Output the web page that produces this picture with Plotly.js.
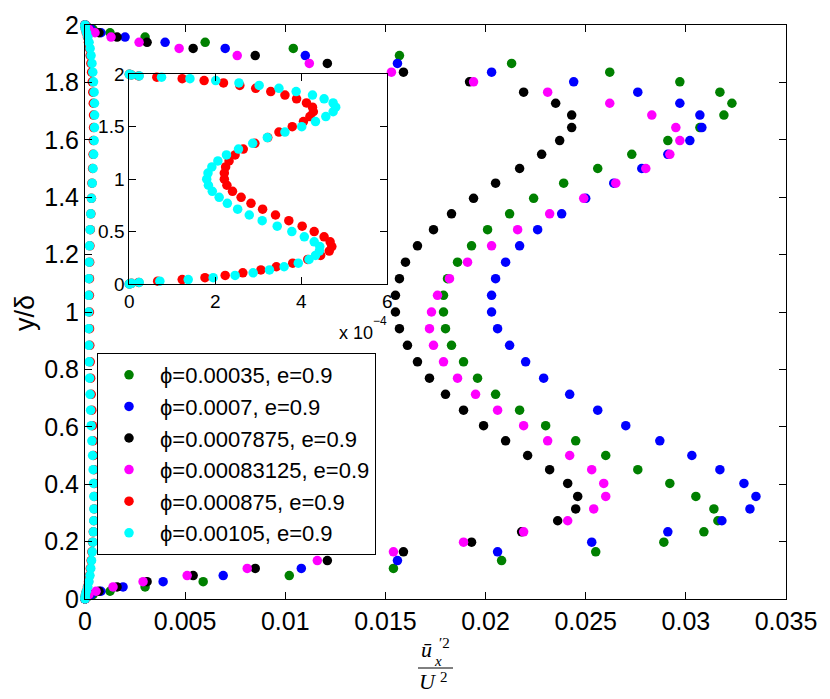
<!DOCTYPE html>
<html><head><meta charset="utf-8">
<script src="https://cdn.plot.ly/plotly-3.0.1.min.js"></script>
<style>html,body{margin:0;padding:0;background:#fff}#chart{width:830px;height:699px}</style>
</head><body><div id="chart"></div>
<script>
// wall-normal positions y/delta
const yGrid = [0, 0.0017, 0.0068, 0.0152, 0.0270, 0.0420, 0.0603, 0.0818, 0.1064, 0.1340,
  0.1645, 0.1981, 0.2340, 0.2726, 0.3138, 0.3572, 0.4028, 0.4505, 0.5, 0.5512,
  0.6039, 0.6580, 0.7132, 0.7694, 0.8264, 0.8839, 0.9419, 1.0, 1.0581, 1.1161,
  1.1736, 1.2306, 1.2868, 1.3420, 1.3961, 1.4488, 1.5, 1.5495, 1.5972, 1.6428,
  1.6862, 1.7274, 1.7660, 1.8019, 1.8355, 1.8660, 1.8936, 1.9182, 1.9397, 1.9580,
  1.9730, 1.9848, 1.9932, 1.9983, 2.0];

const phi00035 = [0, 0.00001, 0.0001, 0.0004, 0.00125, 0.0030, 0.0059, 0.0102, 0.0154, 0.0208,
  0.0255, 0.0289, 0.0309, 0.0316, 0.0314, 0.0305, 0.0292, 0.0276, 0.0260, 0.0245,
  0.0230, 0.0217, 0.0205, 0.0196, 0.0189, 0.0183, 0.0180, 0.0179, 0.0179, 0.0181,
  0.0186, 0.0193, 0.0201, 0.0212, 0.0224, 0.0239, 0.0256, 0.0273, 0.0291, 0.0307,
  0.0319, 0.0323, 0.0317, 0.0297, 0.0262, 0.0213, 0.0157, 0.0104, 0.0060, 0.0030,
  0.00125, 0.0004, 0.0001, 0.00001, 0];

const phi0007 = [0, 0.00001, 0.00008, 0.0003, 0.0008, 0.0019, 0.0039, 0.0069, 0.0108, 0.0156,
  0.0206, 0.0253, 0.0291, 0.0318, 0.0332, 0.0335, 0.0329, 0.0317, 0.0303, 0.0287,
  0.0270, 0.0256, 0.0242, 0.0229, 0.0220, 0.0212, 0.0206, 0.0203, 0.0203, 0.0205,
  0.0210, 0.0217, 0.0226, 0.0238, 0.0250, 0.0264, 0.0278, 0.0291, 0.0302, 0.0308,
  0.0307, 0.0297, 0.0276, 0.0244, 0.0203, 0.0156, 0.0110, 0.0070, 0.0040, 0.0020,
  0.0008, 0.0003, 0.00008, 0.00001, 0];

const phi0007875 = [0, 0.00001, 0.00006, 0.0002, 0.0007, 0.0016, 0.0031, 0.0054, 0.0085, 0.0121,
  0.0159, 0.0193, 0.0218, 0.0236, 0.0245, 0.0246, 0.0241, 0.0232, 0.0221, 0.0210,
  0.0199, 0.0189, 0.0180, 0.0172, 0.0166, 0.0161, 0.0157, 0.0155, 0.0155, 0.0157,
  0.0160, 0.0166, 0.0174, 0.0183, 0.0194, 0.0205, 0.0217, 0.0228, 0.0237, 0.0243,
  0.0243, 0.0235, 0.0219, 0.0192, 0.0159, 0.0121, 0.0085, 0.0054, 0.0031, 0.0016,
  0.0007, 0.0002, 0.00006, 0.00001, 0];

const phi00083125 = [0, 0.00001, 0.00005, 0.0002, 0.00055, 0.0014, 0.0029, 0.0051, 0.0081, 0.0116,
  0.0154, 0.0189, 0.0219, 0.0241, 0.0254, 0.0260, 0.0259, 0.0253, 0.0242, 0.0231,
  0.0219, 0.0206, 0.0195, 0.0186, 0.0179, 0.0174, 0.0172, 0.0173, 0.0176, 0.0182,
  0.0191, 0.0203, 0.0216, 0.0232, 0.0249, 0.0265, 0.0280, 0.0292, 0.0297, 0.0295,
  0.0283, 0.0262, 0.0231, 0.0194, 0.0153, 0.0112, 0.0076, 0.0047, 0.0027, 0.0013,
  0.0005, 0.0002, 0.00005, 0.00001, 0];

const phi000875_e4 = [0, 0.01, 0.05, 0.22, 0.66, 1.23, 1.76, 2.23, 2.64, 3.06,
  3.42, 3.80, 4.15, 4.45, 4.65, 4.71, 4.67, 4.53, 4.30, 4.02,
  3.71, 3.40, 3.10, 2.83, 2.60, 2.40, 2.27, 2.21, 2.21, 2.24,
  2.32, 2.46, 2.65, 2.92, 3.22, 3.48, 3.79, 4.05, 4.20, 4.28,
  4.26, 4.12, 3.89, 3.62, 3.29, 2.94, 2.57, 2.19, 1.74, 1.23,
  0.64, 0.22, 0.05, 0.01, 0];

const phi00105_e4 = [0, 0.01, 0.05, 0.23, 0.71, 1.37, 1.95, 2.46, 2.88, 3.26,
  3.60, 3.93, 4.18, 4.33, 4.42, 4.43, 4.30, 4.07, 3.78, 3.44,
  3.09, 2.79, 2.52, 2.28, 2.09, 1.93, 1.84, 1.80, 1.83, 1.92,
  2.06, 2.26, 2.54, 2.87, 3.21, 3.62, 4.01, 4.33, 4.57, 4.74,
  4.80, 4.74, 4.53, 4.26, 3.88, 3.48, 3.02, 2.55, 2.01, 1.41,
  0.75, 0.23, 0.05, 0.01, 0];
const insetUnit = 1e-4;

const seriesNames = ['\u03d5=0.00035, e=0.9', '\u03d5=0.0007, e=0.9', '\u03d5=0.0007875, e=0.9',
  '\u03d5=0.00083125, e=0.9', '\u03d5=0.000875, e=0.9', '\u03d5=0.00105, e=0.9'];
const seriesColors = ['#008000', '#0000ff', '#000000', '#ff00ff', '#ff0000', '#00ffff'];

const xTickVals = [0, 0.005, 0.01, 0.015, 0.02, 0.025, 0.03, 0.035];
const xTickText = ['0', '0.005', '0.01', '0.015', '0.02', '0.025', '0.03', '0.035'];
const yTickVals = [0, 0.2, 0.4, 0.6, 0.8, 1, 1.2, 1.4, 1.6, 1.8, 2];
const yTickText = ['0', '0.2', '0.4', '0.6', '0.8', '1', '1.2', '1.4', '1.6', '1.8', '2'];
const insetXTickVals = [0, 2e-4, 4e-4, 6e-4];
const insetXTickText = ['0', '2', '4', '6'];
const insetYTickVals = [0, 0.5, 1, 1.5, 2];
const insetYTickText = ['0', '0.5', '1', '1.5', '2'];

const redVals = phi000875_e4.map(v => v * insetUnit);
const cyanVals = phi00105_e4.map(v => v * insetUnit);
const mainSeries = [phi00035, phi0007, phi0007875, phi00083125, redVals, cyanVals];

const SANS = 'Liberation Sans, Arial, Helvetica, sans-serif';
const SERIF = 'Liberation Serif, Times New Roman, serif';
const MS = 9.5;

const traces = [];
mainSeries.forEach((vals, i) => {
  traces.push({
    x: vals, y: yGrid, mode: 'markers', type: 'scatter',
    name: seriesNames[i], legendgroup: 'g' + i,
    marker: {color: seriesColors[i], size: MS},
    xaxis: 'x', yaxis: 'y', cliponaxis: false, hoverinfo: 'skip'
  });
});
[[redVals, 4], [cyanVals, 5]].forEach(([vals, i]) => {
  traces.push({
    x: vals, y: yGrid, mode: 'markers', type: 'scatter',
    name: seriesNames[i], legendgroup: 'g' + i, showlegend: false,
    marker: {color: seriesColors[i], size: MS},
    xaxis: 'x2', yaxis: 'y2', cliponaxis: false, hoverinfo: 'skip'
  });
});

// pixel -> paper helpers for the plot area (85..786 x, 25..599 y)
const L = 85, R = 786, T = 25, B = 599;
const px = p => (p - L) / (R - L);
const py = p => (B - p) / (B - T);

const axisCommon = {
  showline: true, linecolor: 'black', linewidth: 1, mirror: 'ticks',
  ticks: 'inside', ticklen: 7, tickwidth: 1, tickcolor: 'black',
  showgrid: false, zeroline: false, tickmode: 'array'
};

const layout = {
  width: 830, height: 699,
  margin: {l: L, r: 830 - R, t: T, b: 699 - B, pad: 0},
  paper_bgcolor: 'white', plot_bgcolor: 'white',
  font: {family: SANS, size: 25, color: 'black'},
  showlegend: true,
  legend: {
    x: px(97), y: py(353), xanchor: 'left', yanchor: 'top',
    bgcolor: 'white', bordercolor: 'black', borderwidth: 1,
    font: {family: SANS, size: 22, color: 'black'},
    tracegroupgap: 0, itemwidth: 52, traceorder: 'normal'
  },
  xaxis: Object.assign({}, axisCommon, {
    domain: [0, 1], range: [0, 0.035], anchor: 'y',
    tickvals: xTickVals, ticktext: xTickText, tickfont: {size: 25}
  }),
  yaxis: Object.assign({}, axisCommon, {
    domain: [0, 1], range: [0, 2], anchor: 'x',
    tickvals: yTickVals, ticktext: yTickText, tickfont: {size: 25}
  }),
  xaxis2: Object.assign({}, axisCommon, {
    domain: [px(129.3), px(387.3)], range: [0, 6e-4], anchor: 'y2',
    tickvals: insetXTickVals, ticktext: insetXTickText, tickfont: {size: 19}
  }),
  yaxis2: Object.assign({}, axisCommon, {
    domain: [py(284), py(74.3)], range: [0, 2], anchor: 'x2',
    tickvals: insetYTickVals, ticktext: insetYTickText, tickfont: {size: 19}
  }),
  annotations: [
    {xref: 'paper', yref: 'paper', x: px(25), y: py(313), text: 'y/\u03b4', textangle: -90,
     showarrow: false, xanchor: 'center', yanchor: 'middle', font: {family: SANS, size: 27}},
    {xref: 'paper', yref: 'paper', x: px(337), y: py(332.8), text: 'x 10',
     showarrow: false, xanchor: 'left', yanchor: 'middle', font: {family: SANS, size: 18}},
    {xref: 'paper', yref: 'paper', x: px(379.5), y: py(320.8), text: '\u22124',
     showarrow: false, xanchor: 'center', yanchor: 'middle', font: {family: SANS, size: 12}},
    {xref: 'paper', yref: 'paper', x: px(426), y: py(649.7), text: '<i>\u016b</i>', borderpad: 0,
     showarrow: false, xanchor: 'center', yanchor: 'middle', font: {family: SERIF, size: 22}},
    {xref: 'paper', yref: 'paper', x: px(444), y: py(643.4), text: '\u20322', borderpad: 0,
     showarrow: false, xanchor: 'center', yanchor: 'middle', font: {family: SERIF, size: 15}},
    {xref: 'paper', yref: 'paper', x: px(438), y: py(661.4), text: '<i>x</i>', borderpad: 0,
     showarrow: false, xanchor: 'center', yanchor: 'middle', font: {family: SERIF, size: 15}},
    {xref: 'paper', yref: 'paper', x: px(427.5), y: py(681), text: '<i>U</i>', borderpad: 0,
     showarrow: false, xanchor: 'center', yanchor: 'middle', font: {family: SERIF, size: 22}},
    {xref: 'paper', yref: 'paper', x: px(444), y: py(677.3), text: '2', borderpad: 0,
     showarrow: false, xanchor: 'center', yanchor: 'middle', font: {family: SERIF, size: 15}}
  ],
  shapes: [
    {type: 'line', xref: 'paper', yref: 'paper', x0: px(418), x1: px(453), y0: py(668), y1: py(668),
     line: {color: 'black', width: 1}}
  ]
};

Plotly.newPlot('chart', traces, layout, {displayModeBar: false, staticPlot: true});
</script>
</body></html>
